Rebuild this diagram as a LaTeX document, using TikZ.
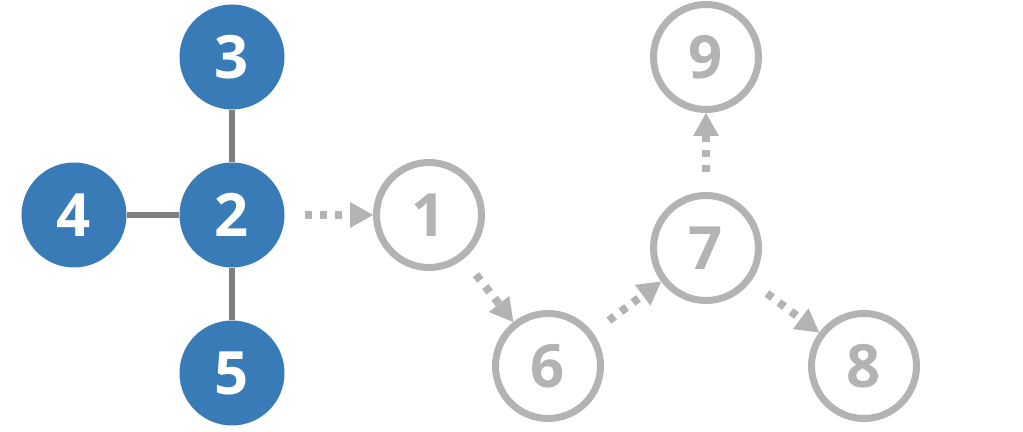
\documentclass[tikz,border=0pt]{standalone}
\usepackage{fontspec}
\setmainfont{Open Sans}
\usetikzlibrary{arrows.meta}
\definecolor{nodeblue}{HTML}{387BB6}
\definecolor{edgegray}{HTML}{808080}
\definecolor{lightgray}{HTML}{B3B3B3}

\begin{document}
\begin{tikzpicture}[
  vert/.style={circle,minimum size=2.1cm,inner sep=0pt,font=\fontsize{34}{34}\bfseries\selectfont},
  done/.style={vert,fill=nodeblue,text=white},
  todo/.style={vert,draw=lightgray,line width=0.14cm,text=lightgray},
  link/.style={edgegray,line width=0.11cm},
  walk/.style={lightgray,line width=0.16cm,dash pattern=on 0.14cm off 0.16cm,shorten <=0.4cm,
    -{Triangle[length=0.46cm,width=0.52cm,line width=0pt]}}]
\useasboundingbox (0,0) rectangle (20.46,-8.64);
\node [done] (n2) at (4.64,-4.30) {2};
\node [done] (n3) at (4.64,-1.14) {3};
\node [done] (n4) at (1.48,-4.30) {4};
\node [done] (n5) at (4.64,-7.46) {5};
\node [todo] (n1) at (8.58,-4.30) {1};
\node [todo] (n6) at (10.96,-7.32) {6};
\node [todo] (n7) at (14.12,-4.96) {7};
\node [todo] (n9) at (14.12,-1.14) {9};
\node [todo] (n8) at (17.28,-7.32) {8};
\draw [link] (n2) -- (n3);
\draw [link] (n2) -- (n4);
\draw [link] (n2) -- (n5);
\draw [walk] (n2) -- (n1);
\draw [walk] (n1) -- (n6);
\draw [walk] (n6) -- (n7);
\draw [walk] (n7) -- (n9);
\draw [walk] (n7) -- (n8);
\end{tikzpicture}
\end{document}
